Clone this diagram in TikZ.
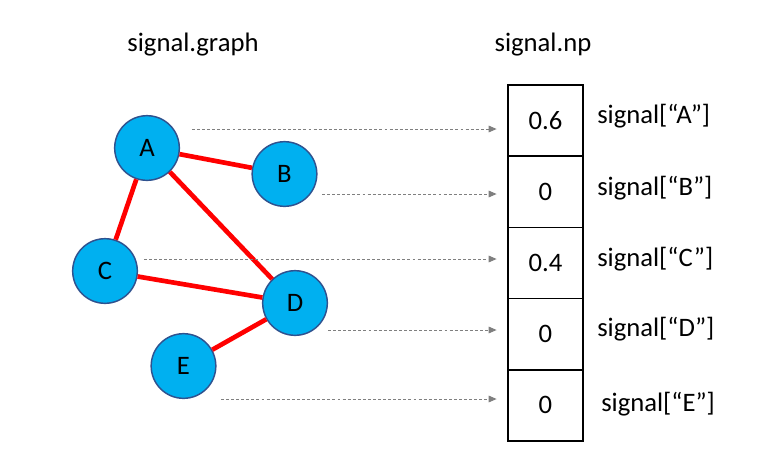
\documentclass[tikz,border=0pt]{standalone}
\usepackage{fontspec}
\setmainfont{Carlito}
\usetikzlibrary{arrows.meta}
\definecolor{nodefill}{HTML}{00B0F0}
\definecolor{nodeline}{HTML}{2F528F}
\definecolor{edgered}{HTML}{FF0000}
\definecolor{arrgray}{HTML}{7F7F7F}
\tikzset{
  vert/.style={circle, draw=nodeline, fill=nodefill, line width=1.1pt, minimum size=48.5pt, inner sep=0pt, font=\fontsize{20}{24}\selectfont},
  edge/.style={draw=edgered, line width=3.5pt},
  cell/.style={rectangle, draw=black, line width=1.3pt, minimum width=56pt, minimum height=53.4pt, inner sep=0pt, font=\fontsize{20}{24}\selectfont},
  lab/.style={anchor=west, inner sep=0pt, font=\fontsize{20}{24}\selectfont},
  title/.style={inner sep=0pt, font=\fontsize{20}{24}\selectfont},
  ptr/.style={draw=arrgray, line width=0.75pt, dash pattern=on 2.2pt off 1.6pt, -{Triangle[length=6pt,width=5pt]}, arrgray, shorten >=8pt},
}
\begin{document}
\begin{tikzpicture}[x=0.75pt, y=-0.75pt]
\useasboundingbox (0,0) rectangle (769,469);
% titles
\node[title] (tg) at (193,45) {signal.graph};
\node[title] (tn) at (543,45) {signal.np};
% graph vertices
\node[vert] (A) at (147,148) {A};
\node[vert] (B) at (284.5,174) {B};
\node[vert] (C) at (105,271) {C};
\node[vert] (D) at (295,303) {D};
\node[vert] (E) at (183.5,366) {E};
% edges
\draw[edge] (A) -- (B);
\draw[edge] (A) -- (C);
\draw[edge] (A) -- (D);
\draw[edge] (C) -- (D);
\draw[edge] (D) -- (E);
% array cells
\node[cell] (cA) at (545.5,120.6) {0.6};
\node[cell] (cB) at (545.5,191.8) {0};
\node[cell] (cC) at (545.5,263.0) {0.4};
\node[cell] (cD) at (545.5,334.2) {0};
\node[cell] (cE) at (545.5,405.4) {0};
% labels
\node[lab] (lA) at (597,116) {signal[“A”]};
\node[lab] (lB) at (597,188) {signal[“B”]};
\node[lab] (lC) at (597,259) {signal[“C”]};
\node[lab] (lD) at (597,329) {signal[“D”]};
\node[lab] (lE) at (601,404) {signal[“E”]};
% pointer start points
\coordinate (sA) at (192,129);
\coordinate (sB) at (322,194);
\coordinate (sC) at (144,259);
\coordinate (sD) at (328,330);
\coordinate (sE) at (221,399);
\draw[ptr] (sA) -- (sA -| cA.west);
\draw[ptr] (sB) -- (sB -| cB.west);
\draw[ptr] (sC) -- (sC -| cC.west);
\draw[ptr] (sD) -- (sD -| cD.west);
\draw[ptr] (sE) -- (sE -| cE.west);
\end{tikzpicture}
\end{document}
